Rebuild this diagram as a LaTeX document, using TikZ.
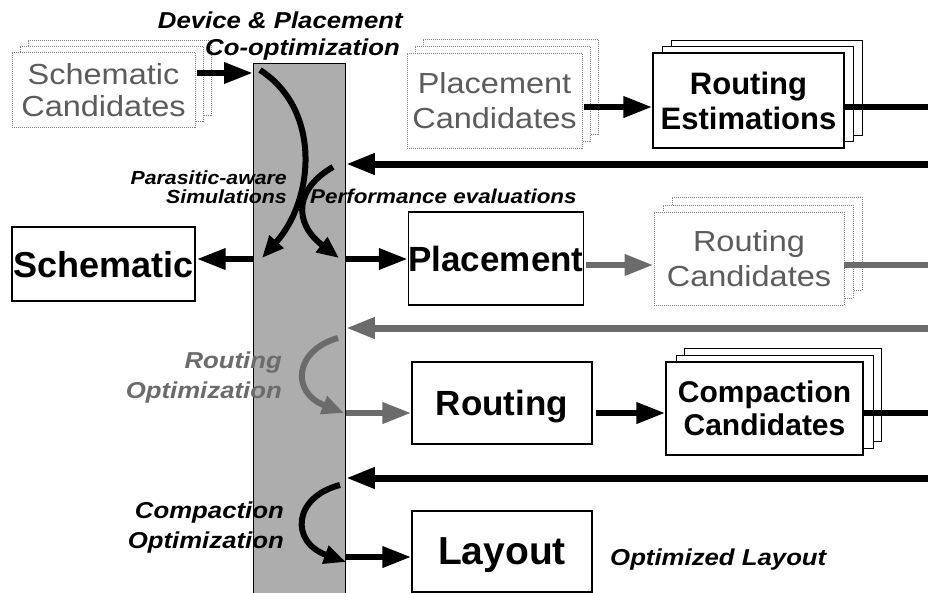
\documentclass[tikz,border=0pt]{standalone}
\usepackage{fontspec}
\setmainfont{Liberation Sans}
\newfontfamily\lblfont[FakeStretch=1.12]{Liberation Sans}
\usetikzlibrary{arrows.meta}
\definecolor{bargray}{gray}{0.68}
\definecolor{flowgray}{gray}{0.42}
\definecolor{candtext}{gray}{0.36}
\definecolor{candline}{gray}{0.5}
\newcommand{\myfs}[2]{\fontsize{#1}{#2}\selectfont}

\begin{document}
\begin{tikzpicture}[x=1pt,y=-1pt,
  solidbox/.style={draw=black, line width=1.2pt, fill=white, inner sep=0pt,
    text depth=0pt, align=center},
  backbox/.style={draw=black, line width=1pt, fill=white, inner sep=0pt},
  candbox/.style={draw=candline, line width=0.9pt, dash pattern=on 1pt off 1pt,
    fill=white, inner sep=0pt, text depth=0pt, text=candtext, align=center},
  bigtxt/.style={font=\bfseries\myfs{#1}{40}},
  candtxt/.style={font=\lblfont\myfs{29}{#1}},
  lbl/.style={font=\lblfont\bfseries\itshape\myfs{#1}{#1}, inner sep=0pt},
  flow/.style={line width=6.5pt, -{Triangle[length=29pt,width=20pt]}},
  flowg/.style={flow, draw=flowgray},
  feed/.style={line width=6pt},
  curvearr/.style={line width=6pt, -{Triangle[length=22pt,width=18pt]}}
]
\useasboundingbox (0,0) rectangle (928,592);

% optimization column
\node[draw=black, line width=0.9pt, fill=bargray, minimum width=92, minimum height=531,
  anchor=north west, inner sep=0pt] (bar) at (253,63) {};

% right-hand edge points of the feedback loops
\coordinate (eA) at (928,107);
\coordinate (eB) at (928,164);
\coordinate (eC) at (928,265);
\coordinate (eD) at (928,328);
\coordinate (eE) at (928,413);
\coordinate (eF) at (928,478);

% schematic candidates (stacked, dotted)
\node[candbox, minimum width=183, minimum height=75] (sc3) at (119.5,77.5) {};
\node[candbox, minimum width=183, minimum height=75] (sc2) at (111.5,83.5) {};
\node[candbox, minimum width=183, minimum height=75, candtxt=32] (sc) at (103.5,89.5) {Schematic\\Candidates};

% placement candidates (stacked, dotted)
\node[candbox, minimum width=175, minimum height=95] (pc3) at (510.5,86.5) {};
\node[candbox, minimum width=175, minimum height=95] (pc2) at (502.5,93.5) {};
\node[candbox, minimum width=175, minimum height=95, candtxt=35] (pc) at (494.5,100.5) {Placement\\Candidates};

% routing estimations (stacked, solid)
\node[backbox, minimum width=191, minimum height=95] (re3) at (766.5,87.5) {};
\node[backbox, minimum width=191, minimum height=95] (re2) at (757.5,93.5) {};
\node[solidbox, minimum width=191, minimum height=95, font=\bfseries\myfs{31}{35}] (re) at (748.5,100.5) {Routing\\Estimations};

% schematic and placement
\node[solidbox, minimum width=183, minimum height=74, bigtxt=36] (sch) at (103.5,264) {Schematic};
\node[solidbox, minimum width=174, minimum height=93, bigtxt=35] (pl) at (496,258.5) {Placement};

% routing candidates (stacked, dotted)
\node[candbox, minimum width=190, minimum height=93] (rc3) at (767,243.5) {};
\node[candbox, minimum width=190, minimum height=93] (rc2) at (758,251.5) {};
\node[candbox, minimum width=190, minimum height=93, candtxt=35] (rc) at (749,258.5) {Routing\\Candidates};

% routing
\node[solidbox, minimum width=180, minimum height=82, bigtxt=35] (rt) at (502,403) {Routing};

% compaction candidates (stacked, solid)
\node[backbox, minimum width=197, minimum height=93] (cc3) at (782.5,394.5) {};
\node[backbox, minimum width=197, minimum height=93] (cc2) at (774.5,401.5) {};
\node[solidbox, minimum width=197, minimum height=93, font=\bfseries\myfs{30}{33}] (cc) at (764.5,408.5) {Compaction\\Candidates};

% layout
\node[solidbox, minimum width=180, minimum height=81, bigtxt=39] (ly) at (502,551.5) {Layout};

% forward flow
\draw[flow] ([xshift=2pt]sc.east |- 0,73) -- (bar.west |- 0,73);
\draw[flow] ([xshift=2pt]pc.east |- 0,107) -- (re.west |- 0,107);
\draw[feed] (re.east |- eA) -- (eA);
\draw[flow] (bar.west |- 0,259) -- ([xshift=1pt]sch.east |- 0,259);
\draw[flow] (bar.east |- 0,259) -- (pl.west |- 0,259);
\draw[flowg] ([xshift=2pt]pl.east |- eC) -- (rc.west |- eC);
\draw[feed, draw=flowgray] (rc.east |- eC) -- (eC);
\draw[flowg] (bar.east |- eE) -- (rt.west |- eE);
\draw[flow] ([xshift=3pt]rt.east |- eE) -- (cc.west |- eE);
\draw[feed] (cc.east |- eE) -- (eE);
\draw[flow] (bar.east |- 0,557) -- (ly.west |- 0,557);

% feedback into the optimization column
\draw[flow, line width=7pt] (eB) -- (bar.east |- eB);
\draw[flowg, line width=7pt] (eD) -- (bar.east |- eD);
\draw[flow, line width=7pt] (eF) -- (bar.east |- eF);

% labels
\node[lbl=23, anchor=base east] (t1) at (403,28) {Device \& Placement};
\node[lbl=23, anchor=base east] (t2) at (400,55) {Co-optimization};
\node[lbl=19, anchor=base east] (pa1) at (287,184) {Parasitic-aware};
\node[lbl=19, anchor=base east] (pa2) at (287,203) {Simulations};
\node[lbl=20, anchor=base west] (pe) at (310,203) {Performance evaluations};
\node[lbl=23, anchor=base east, text=flowgray] (ro1) at (282,368) {Routing};
\node[lbl=23, anchor=base east, text=flowgray] (ro2) at (282,398) {Optimization};
\node[lbl=23, anchor=base east] (co1) at (284,518) {Compaction};
\node[lbl=23, anchor=base east] (co2) at (284,548) {Optimization};
\node[lbl=23, anchor=base west] (ol) at (610,565) {Optimized Layout};

% optimization loops inside the column
\coordinate (cA0) at (260,70);  \coordinate (cA1) at (262,258);
\coordinate (cB0) at (333,167); \coordinate (cB1) at (339,258);
\coordinate (cC0) at (338,338); \coordinate (cC1) at (344,413);
\coordinate (cD0) at (340,485); \coordinate (cD1) at (346,562);
\draw[curvearr] (cA0) .. controls (322,110) and (314,200) .. (cA1);
\draw[curvearr] (cB0) .. controls (296,188) and (292,222) .. (cB1);
\draw[curvearr, draw=flowgray] (cC0) .. controls (295,350) and (290,392) .. (cC1);
\draw[curvearr] (cD0) .. controls (293,497) and (290,542) .. (cD1);
\end{tikzpicture}
\end{document}
